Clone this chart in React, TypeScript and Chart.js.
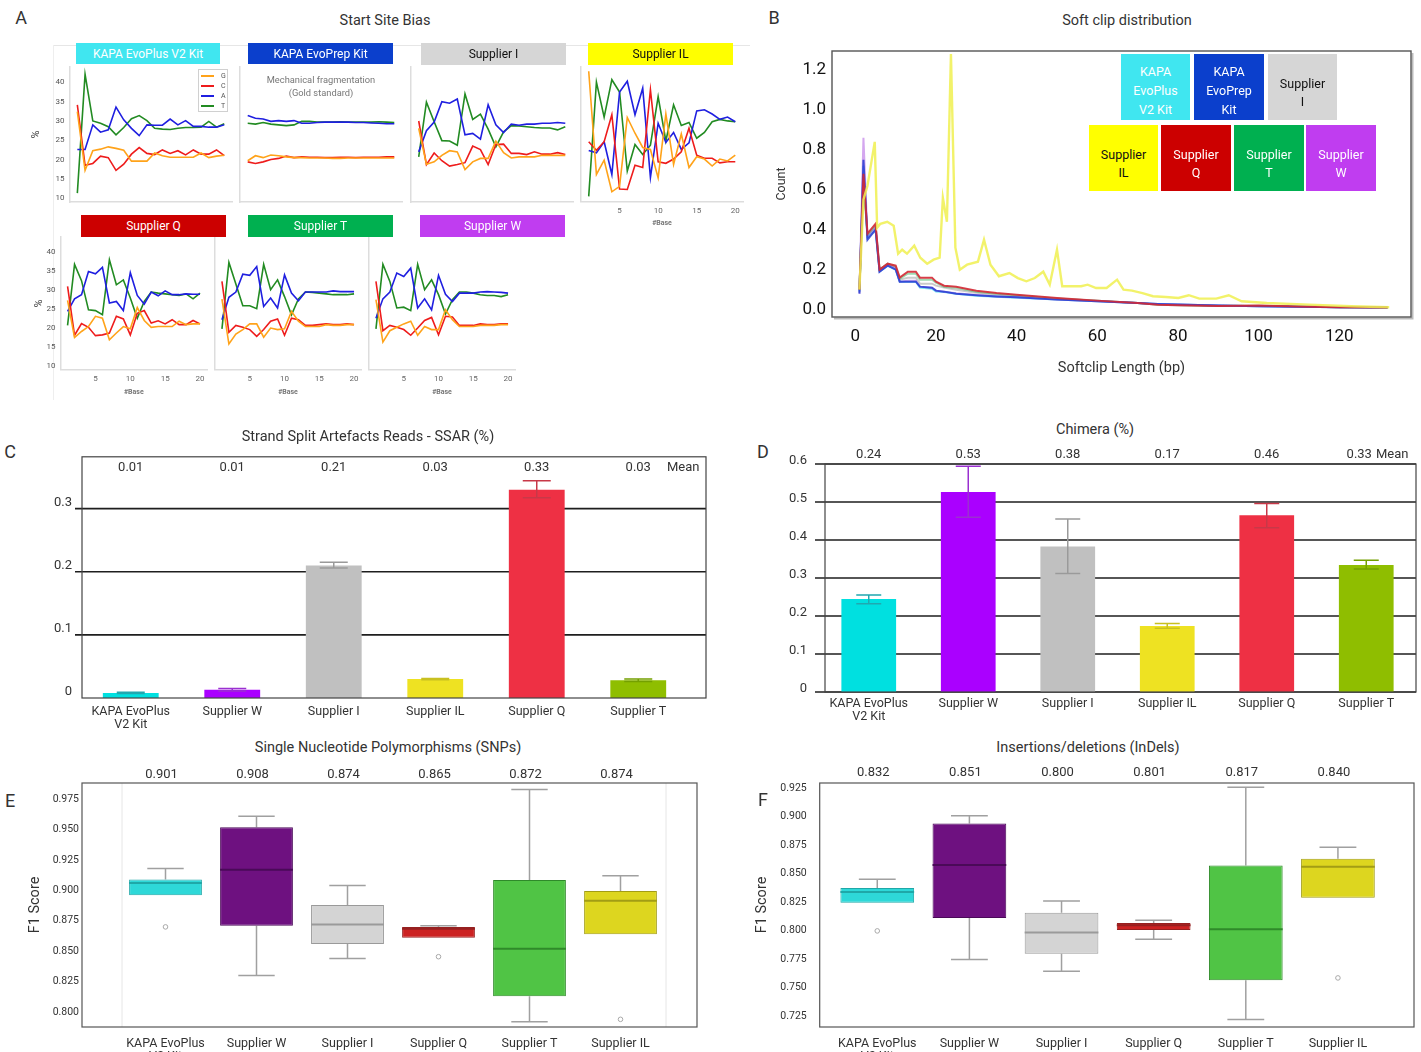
import React, { useEffect, useRef } from 'react';
import { Chart, registerables } from 'chart.js';

Chart.register(...registerables);

const FONT = "Roboto, 'DejaVu Sans', sans-serif";
Chart.defaults.font.family = FONT;
Chart.defaults.color = '#333';

// ---------------- Panel A: Start Site Bias ----------------
const BASES = [1, 2, 3, 4, 5, 6, 7, 8, 9, 10, 11, 12, 13, 14, 15, 16, 17, 18, 19, 20];
const A_X_TICKS = [5, 10, 15, 20];
const A_Y_TICKS = [10, 15, 20, 25, 30, 35, 40];
const NUC_LABELS = ['G', 'C', 'A', 'T'];
const NUC_COLORS = ['#FFA31A', '#EE1C1C', '#1F1FE0', '#228B22'];

const EVOPLUS_G = [32.4, 17.2, 22.3, 22.7, 23.3, 22.9, 22.4, 19.6, 19.6, 19.6, 21.7, 21.0, 20.6, 20.6, 20.6, 20.6, 21.7, 20.5, 20.9, 21.1];
const EVOPLUS_C = [34.2, 18.5, 19.0, 20.9, 20.5, 17.2, 18.8, 21.4, 23.1, 21.6, 21.3, 22.5, 21.6, 22.3, 21.2, 22.5, 21.4, 21.4, 22.5, 21.0];
const EVOPLUS_A = [22.6, 22.6, 29.0, 27.1, 27.7, 33.6, 30.3, 28.1, 26.2, 29.0, 28.9, 28.9, 30.5, 29.0, 30.1, 28.6, 28.6, 28.4, 28.4, 29.0];
const EVOPLUS_T = [11.3, 42.1, 30.0, 29.4, 28.5, 26.4, 28.3, 30.6, 31.4, 30.1, 28.1, 27.9, 27.8, 28.1, 28.3, 28.3, 28.4, 29.9, 28.4, 29.3];

const EVOPREP_G = [19.7, 21.0, 20.5, 21.2, 21.0, 20.7, 20.5, 20.5, 20.4, 20.4, 20.4, 20.3, 20.3, 20.4, 20.4, 20.4, 20.4, 20.4, 20.4, 20.4];
const EVOPREP_C = [19.4, 19.0, 19.4, 20.0, 20.3, 20.9, 20.5, 20.7, 20.6, 20.6, 20.5, 20.5, 20.6, 20.6, 20.5, 20.6, 20.6, 20.6, 20.7, 20.7];
const EVOPREP_A = [31.4, 30.7, 30.5, 29.9, 30.1, 29.9, 30.1, 29.4, 29.4, 29.6, 29.7, 29.7, 29.7, 29.7, 29.6, 29.6, 29.5, 29.4, 29.3, 29.3];
const EVOPREP_T = [29.4, 29.2, 29.6, 29.2, 29.0, 28.8, 29.0, 29.9, 29.9, 29.7, 29.7, 29.7, 29.8, 29.7, 29.7, 29.7, 29.7, 29.8, 29.7, 29.6];

const SUPI_G = [28.1, 18.8, 19.4, 21.1, 22.3, 22.0, 17.4, 19.4, 20.3, 20.3, 24.8, 21.8, 20.4, 20.7, 20.7, 20.7, 21.1, 21.1, 21.1, 21.1];
const SUPI_C = [30.0, 18.7, 21.7, 19.7, 18.3, 18.7, 19.2, 23.5, 22.6, 18.7, 23.9, 24.0, 21.6, 21.6, 21.3, 22.0, 21.4, 21.4, 21.8, 21.3];
const SUPI_A = [22.0, 27.5, 29.7, 35.0, 34.6, 35.7, 26.4, 26.8, 25.3, 34.2, 29.0, 27.0, 29.2, 28.9, 29.2, 29.2, 29.4, 29.4, 29.6, 29.4];
const SUPI_T = [20.7, 34.9, 29.8, 24.9, 24.8, 23.7, 37.0, 30.4, 31.8, 27.9, 23.3, 27.2, 28.8, 28.7, 28.5, 28.3, 28.2, 28.2, 27.7, 28.5];

const SUPIL_G = [42.9, 16.1, 19.8, 11.6, 13.0, 30.9, 26.8, 23.1, 22.6, 15.2, 31.8, 18.7, 26.6, 17.9, 20.7, 20.1, 18.3, 20.1, 19.6, 21.1];
const SUPIL_C = [24.6, 22.4, 24.6, 31.6, 12.3, 12.2, 18.5, 17.9, 38.1, 19.4, 19.0, 20.1, 22.0, 28.1, 21.1, 20.3, 20.3, 19.1, 19.4, 19.4];
const SUPIL_A = [22.3, 21.7, 24.6, 16.1, 37.5, 40.3, 31.6, 38.5, 15.3, 29.4, 24.4, 27.0, 22.6, 24.3, 32.6, 32.9, 31.8, 30.4, 31.0, 29.8];
const SUPIL_T = [10.4, 40.1, 31.0, 40.7, 37.5, 17.0, 23.9, 21.3, 23.7, 36.3, 24.8, 34.2, 28.8, 29.6, 25.5, 27.0, 29.8, 30.4, 30.0, 29.8];

const SUPQ_G = [27.3, 17.5, 19.1, 20.4, 23.1, 22.6, 16.9, 18.7, 20.4, 19.8, 25.4, 22.0, 20.2, 20.4, 20.4, 20.4, 21.8, 20.9, 21.1, 21.1];
const SUPQ_C = [31.0, 18.1, 21.2, 20.2, 18.0, 18.2, 18.7, 23.1, 22.4, 18.2, 23.9, 24.6, 21.3, 21.9, 21.1, 22.2, 20.9, 20.9, 22.0, 21.1];
const SUPQ_A = [24.4, 27.7, 28.8, 34.9, 34.3, 36.0, 26.6, 27.0, 24.6, 34.6, 28.6, 26.3, 29.5, 28.5, 29.8, 28.8, 28.8, 29.0, 28.9, 28.9];
const SUPQ_T = [20.7, 36.8, 32.5, 24.8, 24.6, 23.5, 38.0, 31.4, 32.7, 27.9, 22.6, 27.0, 29.5, 29.2, 29.0, 28.8, 28.6, 29.0, 27.7, 29.2];

const SUPT_G = [27.6, 15.8, 18.4, 19.6, 21.1, 21.1, 17.6, 20.0, 19.6, 19.8, 24.4, 21.8, 20.4, 20.4, 20.4, 20.9, 20.7, 20.7, 20.9, 20.9];
const SUPT_C = [32.3, 18.9, 20.7, 20.2, 19.6, 17.8, 19.6, 21.8, 22.4, 18.1, 22.6, 22.2, 20.7, 20.7, 20.9, 21.1, 20.9, 20.9, 21.1, 20.9];
const SUPT_A = [22.2, 28.1, 29.5, 34.2, 33.9, 36.2, 25.7, 27.9, 25.3, 34.0, 29.2, 27.2, 29.5, 29.5, 29.5, 29.5, 29.8, 29.6, 29.6, 29.6];
const SUPT_T = [19.8, 37.3, 31.6, 25.9, 25.9, 25.1, 36.8, 30.1, 32.7, 28.3, 23.5, 27.7, 29.5, 29.4, 29.2, 29.0, 28.8, 28.8, 28.8, 29.0];

const SUPW_G = [27.5, 16.3, 19.3, 20.2, 21.1, 21.8, 18.1, 20.4, 19.6, 19.6, 24.8, 22.2, 20.4, 20.4, 20.4, 20.7, 20.7, 20.7, 20.9, 20.9];
const SUPW_C = [32.3, 19.3, 20.7, 20.2, 19.6, 18.1, 20.0, 22.0, 22.8, 18.2, 23.1, 22.9, 20.7, 20.7, 20.7, 21.1, 20.9, 20.9, 21.1, 21.1];
const SUPW_A = [22.6, 27.7, 29.5, 34.5, 33.6, 35.8, 25.3, 27.7, 24.8, 33.9, 28.9, 27.0, 29.2, 29.2, 29.2, 29.5, 29.6, 29.5, 29.4, 29.2];
const SUPW_T = [19.8, 36.8, 32.3, 25.3, 25.5, 24.6, 36.8, 30.1, 32.7, 28.8, 23.7, 27.5, 29.5, 29.5, 29.2, 28.8, 28.6, 28.6, 28.3, 28.8];

// ---------------- Panel B: Soft clip distribution ----------------
const B_X_TICKS = [0, 20, 40, 60, 80, 100, 120];
const B_Y_TICKS = [0, 0.2, 0.4, 0.6, 0.8, 1.0, 1.2];
const CLUSTER_X = [1, 2, 3, 5, 6, 8, 10, 11, 13, 15, 16, 19, 20, 22, 25, 30, 35, 40, 50, 60, 70, 75, 80, 90, 100, 110, 120, 132];
const SC_Q = [0.10, 0.68, 0.38, 0.43, 0.20, 0.23, 0.22, 0.16, 0.19, 0.19, 0.16, 0.16, 0.14, 0.12, 0.115, 0.095, 0.083, 0.075, 0.058, 0.045, 0.033, 0.024, 0.022, 0.018, 0.02, 0.016, 0.012, 0.01];
const SC_EVOPREP = [0.08, 0.75, 0.35, 0.40, 0.19, 0.22, 0.20, 0.14, 0.14, 0.14, 0.115, 0.11, 0.095, 0.09, 0.08, 0.072, 0.066, 0.062, 0.05, 0.042, 0.033, 0.028, 0.025, 0.02, 0.017, 0.014, 0.012, 0.01];
const SC_W = [0.08, 0.86, 0.36, 0.41, 0.19, 0.225, 0.205, 0.14, 0.145, 0.145, 0.115, 0.11, 0.095, 0.09, 0.082, 0.073, 0.066, 0.062, 0.05, 0.042, 0.033, 0.028, 0.025, 0.02, 0.017, 0.014, 0.012, 0.01];
const SC_EVOPLUS = [0.09, 0.72, 0.36, 0.40, 0.19, 0.22, 0.20, 0.14, 0.14, 0.14, 0.11, 0.105, 0.09, 0.088, 0.08, 0.07, 0.065, 0.06, 0.05, 0.042, 0.033, 0.028, 0.025, 0.02, 0.017, 0.014, 0.012, 0.01];
const SC_I = [0.09, 0.66, 0.37, 0.42, 0.2, 0.225, 0.21, 0.15, 0.16, 0.16, 0.13, 0.13, 0.12, 0.11, 0.1, 0.085, 0.075, 0.068, 0.054, 0.044, 0.033, 0.026, 0.023, 0.019, 0.018, 0.015, 0.012, 0.01];
const SC_T = [0.1, 0.65, 0.37, 0.42, 0.2, 0.23, 0.215, 0.155, 0.18, 0.18, 0.15, 0.15, 0.135, 0.115, 0.11, 0.09, 0.08, 0.072, 0.056, 0.044, 0.033, 0.024, 0.022, 0.018, 0.019, 0.015, 0.012, 0.01];
const YELLOW_X = [1, 2, 3, 4.8, 5.4, 6.2, 7.9, 9.5, 10.6, 11.6, 12.8, 14.6, 16.1, 17.8, 19.4, 20.9, 21.7, 22.7, 23.7, 24.8, 25.9, 27.7, 30.4, 31.9, 33.5, 35.6, 38.2, 40.3, 42.4, 44.5, 46.6, 48.2, 50, 51.3, 53.4, 56, 57.6, 59.7, 62.3, 64.9, 66.5, 68.6, 71.2, 73.8, 77, 80.1, 82.7, 85.3, 89.5, 92.6, 95.8, 102, 112.5, 123, 132.4];
const SC_IL = [0.1, 0.55, 0.62, 0.84, 0.41, 0.43, 0.44, 0.42, 0.28, 0.3, 0.28, 0.32, 0.26, 0.23, 0.25, 0.26, 0.56, 0.44, 1.28, 0.31, 0.2, 0.225, 0.24, 0.35, 0.225, 0.167, 0.183, 0.158, 0.142, 0.158, 0.19, 0.125, 0.3, 0.117, 0.117, 0.117, 0.125, 0.108, 0.108, 0.15, 0.1, 0.095, 0.083, 0.067, 0.063, 0.058, 0.072, 0.055, 0.055, 0.072, 0.042, 0.033, 0.025, 0.017, 0.012];

// ---------------- Panels C & D: bars ----------------
const CAT_CD = [['KAPA EvoPlus', 'V2 Kit'], 'Supplier W', 'Supplier I', 'Supplier IL', 'Supplier Q', 'Supplier T'];
const BAR_COLORS = ['#00E0E0', '#AA00FF', '#C0C0C0', '#EEE222', '#EE3044', '#8FBE00'];
const ERR_COLORS = ['#20A8B0', '#9A30D0', '#9A9A9A', '#C8C020', '#C83848', '#74A000'];
const MEAN_WORD = 'Mean';

const SSAR = [0.008, 0.013, 0.21, 0.03, 0.33, 0.028];
const SSAR_LO = [0.007, 0.011, 0.206, 0.029, 0.317, 0.026];
const SSAR_HI = [0.009, 0.015, 0.215, 0.031, 0.344, 0.030];
const SSAR_MEANS = ['0.01', '0.01', '0.21', '0.03', '0.33', '0.03'];
const C_TICKS = [0, 0.1, 0.2, 0.3];

const CHIMERA = [0.245, 0.526, 0.383, 0.174, 0.465, 0.334];
const CHIMERA_LO = [0.232, 0.46, 0.312, 0.168, 0.432, 0.324];
const CHIMERA_HI = [0.255, 0.594, 0.455, 0.18, 0.496, 0.347];
const CHIMERA_MEANS = ['0.24', '0.53', '0.38', '0.17', '0.46', '0.33'];
const D_TICKS = [0, 0.1, 0.2, 0.3, 0.4, 0.5, 0.6];

// ---------------- Panels E & F: box plots ----------------
const CAT_EF = [['KAPA EvoPlus', 'V2 Kit'], 'Supplier W', 'Supplier I', 'Supplier Q', 'Supplier T', 'Supplier IL'];
const BOX_COLORS = ['#2ED8D8', '#6E1180', '#D4D4D4', '#CC2222', '#50C445', '#DDD61F'];
const BOX_EDGES = ['#1FA8A8', '#4A0A58', '#9A9A9A', '#962020', '#2F8A2A', '#A29D15'];

const SNP_MIN = [0.896, 0.83, 0.844, 0.861, 0.792, 0.864];
const SNP_Q1 = [0.896, 0.871, 0.856, 0.861, 0.813, 0.864];
const SNP_MED = [0.906, 0.917, 0.872, 0.8685, 0.852, 0.8915];
const SNP_Q3 = [0.909, 0.952, 0.888, 0.87, 0.9086, 0.8995];
const SNP_MAX = [0.918, 0.961, 0.904, 0.871, 0.983, 0.912];
const SNP_OUT = [0.87, null, null, 0.8455, null, 0.794];
const SNP_MEANS = ['0.901', '0.908', '0.874', '0.865', '0.872', '0.874'];
const E_TICKS = [0.8, 0.825, 0.85, 0.875, 0.9, 0.925, 0.95, 0.975];

const INDEL_MIN = [0.8244, 0.7747, 0.7645, 0.7925, 0.7221, 0.8288];
const INDEL_Q1 = [0.8244, 0.811, 0.7797, 0.8007, 0.7566, 0.8288];
const INDEL_MED = [0.834, 0.8575, 0.7984, 0.8048, 0.8013, 0.856];
const INDEL_Q3 = [0.8375, 0.894, 0.8156, 0.8068, 0.8572, 0.863];
const INDEL_MAX = [0.845, 0.9007, 0.826, 0.8092, 0.9256, 0.873];
const INDEL_OUT = [0.7998, null, null, null, null, 0.7586];
const INDEL_MEANS = ['0.832', '0.851', '0.800', '0.801', '0.817', '0.840'];
const F_TICKS = [0.725, 0.75, 0.775, 0.8, 0.825, 0.85, 0.875, 0.9, 0.925];

// ---------------- helpers ----------------
type Area = { l: number; t: number; r: number; b: number };
type Marg = { ml: number; mt: number; mr: number; mb: number };

const fixTicks = (vals: number[]) => (s: any) => {
  s.ticks = vals.map((v) => ({ value: v }));
};

function baseOpts(m: Marg) {
  return {
    animation: false,
    responsive: false,
    maintainAspectRatio: false,
    events: [],
    layout: { padding: { top: m.mt, right: m.mr, left: 0, bottom: 0 } },
    plugins: { legend: { display: false }, tooltip: { enabled: false } },
  };
}

function ChartBox({ area, m, make }: { area: Area; m: Marg; make: (m: Marg) => any }) {
  const ref = useRef<HTMLCanvasElement>(null);
  const w = Math.round(area.r - area.l + m.ml + m.mr);
  const h = Math.round(area.b - area.t + m.mt + m.mb);
  useEffect(() => {
    const chart = new Chart(ref.current as HTMLCanvasElement, make(m));
    return () => chart.destroy();
  }, []);
  return (
    <div style={{ position: 'absolute', left: area.l - m.ml, top: area.t - m.mt, width: w, height: h }}>
      <canvas ref={ref} width={w} height={h} style={{ width: w, height: h, display: 'block' }} />
    </div>
  );
}

function Txt({ x, y, s, size, color = '#333', rot = 0, weight = 400 }: any) {
  return (
    <div
      style={{
        position: 'absolute', left: x, top: y, transform: `translate(-50%, -50%) rotate(${rot}deg)`,
        fontSize: size, color, whiteSpace: 'nowrap', lineHeight: 1, fontWeight: weight,
      }}
    >
      {s}
    </div>
  );
}

function Tag({ x, y, w, h, bg, fg, lines, size, lh, dy = 0 }: any) {
  return (
    <div
      style={{
        position: 'absolute', left: x, top: y, width: w, height: h, background: bg, color: fg, fontSize: size,
        display: 'flex', flexDirection: 'column', alignItems: 'center', justifyContent: 'center', lineHeight: `${lh}px`,
        textAlign: 'center', boxSizing: 'border-box', paddingTop: dy * 2,
      }}
    >
      {lines.map((l: string, i: number) => (
        <div key={i}>{l}</div>
      ))}
    </div>
  );
}

// ---------------- Panel A config ----------------
function ssbMake(series: number[][], showY: boolean, showX: boolean) {
  return (m: Marg) => ({
    type: 'line',
    data: {
      datasets: series.map((d, k) => ({
        label: NUC_LABELS[k],
        data: BASES.map((b, i) => ({ x: b, y: d[i] })),
        borderColor: NUC_COLORS[k],
        borderWidth: 1.6,
        pointRadius: 0,
        tension: 0,
      })),
    },
    options: {
      ...baseOpts(m),
      scales: {
        x: {
          type: 'linear', min: 0, max: 21,
          afterBuildTicks: fixTicks(A_X_TICKS),
          afterFit: (s: any) => { s.height = m.mb; },
          grid: { display: false, drawTicks: false },
          border: { display: true, color: '#DDDDDD', width: 1.5 },
          ticks: { display: showX, color: '#666', font: { size: 8 }, padding: 4, maxRotation: 0, autoSkip: false },
          title: { display: showX, text: '#Base', color: '#777', font: { size: 7, weight: 'bold' }, padding: { top: 0, bottom: 2 } },
        },
        y: {
          type: 'linear', min: 9, max: 44,
          afterBuildTicks: fixTicks(A_Y_TICKS),
          afterFit: (s: any) => { s.width = m.ml; },
          grid: { display: false, drawTicks: false },
          border: { display: true, color: '#DDDDDD', width: 1.5 },
          ticks: { display: showY, color: '#555', font: { size: 8 }, padding: 5, autoSkip: false },
          title: { display: showY, text: '%', color: '#444', font: { size: 11 }, padding: { top: 1.5, bottom: 0 } },
        },
      },
    },
  });
}

// ---------------- Panel B config ----------------
function softclipMake(m: Marg) {
  const cl = (d: number[], col: string, w = 2) => ({
    data: CLUSTER_X.map((x, i) => ({ x, y: d[i] })),
    borderColor: col, borderWidth: w, pointRadius: 0, tension: 0,
  });
  return {
    type: 'line',
    data: {
      datasets: [
        { data: YELLOW_X.map((x, i) => ({ x, y: SC_IL[i] })), borderColor: 'rgba(240,240,80,0.85)', borderWidth: 2.4, pointRadius: 0, tension: 0 },
        cl(SC_Q, 'rgba(212,40,52,0.9)'),
        cl(SC_EVOPREP, 'rgba(40,60,210,0.85)'),
        cl(SC_W, 'rgba(160,60,220,0.45)'),
        cl(SC_EVOPLUS, 'rgba(64,220,240,0.7)'),
        cl(SC_T, 'rgba(40,170,80,0.45)'),
        cl(SC_I, 'rgba(190,190,190,0.8)'),
      ],
    },
    options: {
      ...baseOpts(m),
      scales: {
        x: {
          type: 'linear', min: -5.8, max: 137.8,
          afterBuildTicks: fixTicks(B_X_TICKS),
          afterFit: (s: any) => { s.height = m.mb; },
          grid: { display: false, drawTicks: false },
          border: { display: false },
          ticks: { color: '#111', font: { size: 17 }, padding: 10, maxRotation: 0, autoSkip: false },
          title: { display: true, text: 'Softclip Length (bp)', color: '#333', font: { size: 14.5 }, padding: { top: 0, bottom: 4 } },
        },
        y: {
          type: 'linear', min: -0.037, max: 1.295,
          afterBuildTicks: fixTicks(B_Y_TICKS),
          afterFit: (s: any) => { s.width = m.ml; },
          grid: { display: false, drawTicks: false },
          border: { display: false },
          ticks: { color: '#111', font: { size: 17 }, padding: 6, autoSkip: false, callback: (v: any) => Number(v).toFixed(1) },
          title: { display: true, text: 'Count', color: '#333', font: { size: 12.5 }, padding: { top: 5, bottom: 0 } },
        },
      },
    },
    plugins: [
      {
        id: 'frameB',
        afterDatasetsDraw(chart: any) {
          const { ctx, chartArea: a } = chart;
          ctx.save();
          ctx.strokeStyle = '#BBBBBB';
          ctx.lineWidth = 2;
          ctx.beginPath();
          ctx.moveTo(a.right + 1.5, a.top + 2);
          ctx.lineTo(a.right + 1.5, a.bottom + 1.5);
          ctx.lineTo(a.left + 2, a.bottom + 1.5);
          ctx.stroke();
          ctx.strokeStyle = '#555';
          ctx.lineWidth = 1.4;
          ctx.strokeRect(a.left, a.top, a.right - a.left, a.bottom - a.top);
          ctx.restore();
        },
      },
    ],
  };
}

// ---------------- Panels C/D config ----------------
function barMake(o: {
  values: number[]; lo: number[]; hi: number[]; means: string[]; yMax: number; ticks: number[]; grid: number[];
  gridDX: number; frameDL: number; frameDR: number; meanDY: number; meanWordDX: number; lastMeanDX: number;
  capW: number; tickPad: number; labelOffset: number; xPad: number;
}) {
  return (m: Marg) => ({
    type: 'bar',
    data: {
      labels: CAT_CD,
      datasets: [{ data: o.values, backgroundColor: BAR_COLORS, borderWidth: 0, barPercentage: 0.55, categoryPercentage: 1 }],
    },
    options: {
      ...baseOpts(m),
      scales: {
        x: {
          afterFit: (s: any) => { s.height = m.mb; },
          grid: { display: false, drawTicks: false },
          border: { display: false },
          ticks: { color: '#333', font: { size: 12.5, lineHeight: 1.05 }, padding: o.xPad, maxRotation: 0, autoSkip: false },
        },
        y: {
          min: 0, max: o.yMax,
          afterBuildTicks: fixTicks(o.ticks),
          afterFit: (s: any) => { s.width = m.ml; },
          grid: { display: false, drawTicks: false },
          border: { display: false },
          ticks: {
            color: '#333', font: { size: 13 }, padding: o.tickPad, labelOffset: o.labelOffset, autoSkip: false,
            callback: (v: any) => (Number(v) === 0 ? '0' : Number(v).toFixed(1)),
          },
        },
      },
    },
    plugins: [
      {
        id: 'barDecor',
        beforeDatasetsDraw(chart: any) {
          const { ctx, chartArea: a, scales } = chart;
          ctx.save();
          ctx.strokeStyle = '#1E1E1E';
          ctx.lineWidth = 1.6;
          for (const v of o.grid) {
            const py = scales.y.getPixelForValue(v);
            ctx.beginPath();
            ctx.moveTo(a.left + o.gridDX, py);
            ctx.lineTo(a.right + o.frameDR, py);
            ctx.stroke();
          }
          ctx.restore();
        },
        afterDatasetsDraw(chart: any) {
          const { ctx, chartArea: a, scales } = chart;
          const x = scales.x;
          const y = scales.y;
          ctx.save();
          ctx.strokeStyle = '#444';
          ctx.lineWidth = 1.2;
          ctx.strokeRect(a.left + o.frameDL, a.top, a.right + o.frameDR - a.left - o.frameDL, a.bottom - a.top);
          o.lo.forEach((lo, i) => {
            const cx = x.getPixelForValue(i);
            const p1 = y.getPixelForValue(lo);
            const p2 = y.getPixelForValue(o.hi[i]);
            ctx.strokeStyle = ERR_COLORS[i];
            ctx.lineWidth = 1.5;
            ctx.beginPath();
            ctx.moveTo(cx, p1); ctx.lineTo(cx, p2);
            ctx.moveTo(cx - o.capW / 2, p1); ctx.lineTo(cx + o.capW / 2, p1);
            ctx.moveTo(cx - o.capW / 2, p2); ctx.lineTo(cx + o.capW / 2, p2);
            ctx.stroke();
          });
          ctx.fillStyle = '#333';
          ctx.font = `13px ${FONT}`;
          ctx.textAlign = 'center';
          ctx.textBaseline = 'middle';
          const n = o.means.length;
          o.means.forEach((s, i) => {
            ctx.fillText(s, x.getPixelForValue(i) + (i === n - 1 ? o.lastMeanDX : 0), a.top + o.meanDY);
          });
          ctx.fillText(MEAN_WORD, x.getPixelForValue(n - 1) + o.meanWordDX, a.top + o.meanDY);
          ctx.restore();
        },
      },
    ],
  });
}

// ---------------- Panels E/F config ----------------
function boxMake(o: {
  min: number[]; q1: number[]; med: number[]; q3: number[]; max: number[]; out: (number | null)[]; means: string[];
  yMin: number; yMax: number; ticks: number[]; title: string; tickLen: number; frameDL: number; frameDR: number;
  meanDY: number; inner: boolean;
}) {
  return (m: Marg) => ({
    type: 'bar',
    data: {
      labels: CAT_EF,
      datasets: [
        {
          type: 'line', data: o.out, showLine: false, pointRadius: 2.3, pointBorderWidth: 1,
          pointBorderColor: '#A8A8A8', pointBackgroundColor: 'rgba(255,255,255,0)', borderColor: '#A8A8A8',
        },
        {
          type: 'bar', data: o.q1.map((q, i) => [q, o.q3[i]]), backgroundColor: BOX_COLORS, borderColor: BOX_EDGES,
          borderWidth: 1, borderSkipped: false, barPercentage: 0.8, categoryPercentage: 1,
        },
      ],
    },
    options: {
      ...baseOpts(m),
      scales: {
        x: {
          afterFit: (s: any) => { s.height = m.mb; },
          grid: { display: false, drawTicks: false },
          border: { display: false },
          ticks: { color: '#333', font: { size: 12.5, lineHeight: 1.05 }, padding: 10, maxRotation: 0, autoSkip: false },
        },
        y: {
          min: o.yMin, max: o.yMax,
          afterBuildTicks: fixTicks(o.ticks),
          afterFit: (s: any) => { s.width = m.ml; },
          grid: { display: false, drawTicks: true, tickLength: o.tickLen },
          border: { display: false },
          ticks: { color: '#333', font: { size: 10.5 }, padding: 5, autoSkip: false, callback: (v: any) => Number(v).toFixed(3) },
          title: { display: true, text: o.title, color: '#333', font: { size: 14.5 }, padding: { top: 5, bottom: 0 } },
        },
      },
    },
    plugins: [
      {
        id: 'boxDecor',
        beforeDatasetsDraw(chart: any) {
          const { ctx, chartArea: a, scales } = chart;
          const x = scales.x;
          const y = scales.y;
          const meta = chart.getDatasetMeta(1);
          ctx.save();
          if (o.inner) {
            ctx.strokeStyle = '#E6E6E6';
            ctx.lineWidth = 1;
            ctx.beginPath();
            ctx.moveTo(a.left + 2, a.top); ctx.lineTo(a.left + 2, a.bottom);
            ctx.moveTo(a.right, a.top); ctx.lineTo(a.right, a.bottom);
            ctx.stroke();
          }
          ctx.strokeStyle = '#A0A0A0';
          ctx.lineWidth = 1.5;
          o.q1.forEach((q1, i) => {
            const cx = x.getPixelForValue(i);
            const bw = meta.data[i] ? meta.data[i].width : 70;
            const cap = bw / 4;
            ctx.beginPath();
            if (o.max[i] > o.q3[i]) {
              const p = y.getPixelForValue(o.max[i]);
              ctx.moveTo(cx, y.getPixelForValue(o.q3[i])); ctx.lineTo(cx, p);
              ctx.moveTo(cx - cap, p); ctx.lineTo(cx + cap, p);
            }
            if (o.min[i] < q1) {
              const p = y.getPixelForValue(o.min[i]);
              ctx.moveTo(cx, y.getPixelForValue(q1)); ctx.lineTo(cx, p);
              ctx.moveTo(cx - cap, p); ctx.lineTo(cx + cap, p);
            }
            ctx.stroke();
          });
          ctx.restore();
        },
        afterDatasetsDraw(chart: any) {
          const { ctx, chartArea: a, scales } = chart;
          const x = scales.x;
          const y = scales.y;
          const meta = chart.getDatasetMeta(1);
          ctx.save();
          ctx.lineWidth = 2;
          o.med.forEach((md, i) => {
            const cx = x.getPixelForValue(i);
            const bw = meta.data[i] ? meta.data[i].width : 70;
            const py = y.getPixelForValue(md);
            ctx.strokeStyle = BOX_EDGES[i];
            ctx.beginPath();
            ctx.moveTo(cx - bw / 2, py); ctx.lineTo(cx + bw / 2, py);
            ctx.stroke();
          });
          ctx.strokeStyle = '#555';
          ctx.lineWidth = 1.2;
          ctx.strokeRect(a.left + o.frameDL, a.top, a.right + o.frameDR - a.left - o.frameDL, a.bottom - a.top);
          ctx.fillStyle = '#333';
          ctx.font = `13px ${FONT}`;
          ctx.textAlign = 'center';
          ctx.textBaseline = 'middle';
          o.means.forEach((s, i) => ctx.fillText(s, x.getPixelForValue(i) - 4, a.top + o.meanDY));
          ctx.restore();
        },
      },
    ],
  });
}

// ---------------- App ----------------
export default function App() {
  return (
    <div
      style={{
        position: 'absolute', left: 0, top: 0, width: 1421, height: 1052, background: '#fff', overflow: 'hidden',
        fontFamily: FONT, color: '#333',
      }}
    >
      {/* Panel A frame hints */}
      <div style={{ position: 'absolute', left: 53, top: 45, width: 697, height: 0, borderTop: '1px solid #E6E6E6' }} />
      <div style={{ position: 'absolute', left: 53, top: 45, width: 0, height: 355, borderLeft: '1px solid #EEEEEE' }} />

      {/* Panel A charts */}
      <ChartBox area={{ l: 70, t: 67, r: 232, b: 202 }} m={{ ml: 41.6, mt: 12, mr: 4, mb: 12 }} make={ssbMake([EVOPLUS_G, EVOPLUS_C, EVOPLUS_A, EVOPLUS_T], true, false)} />
      <ChartBox area={{ l: 240, t: 67, r: 402, b: 202 }} m={{ ml: 4, mt: 12, mr: 4, mb: 12 }} make={ssbMake([EVOPREP_G, EVOPREP_C, EVOPREP_A, EVOPREP_T], false, false)} />
      <ChartBox area={{ l: 411, t: 67, r: 573, b: 202 }} m={{ ml: 4, mt: 12, mr: 4, mb: 12 }} make={ssbMake([SUPI_G, SUPI_C, SUPI_A, SUPI_T], false, false)} />
      <ChartBox area={{ l: 581, t: 67, r: 743, b: 202 }} m={{ ml: 4, mt: 12, mr: 4, mb: 27.2 }} make={ssbMake([SUPIL_G, SUPIL_C, SUPIL_A, SUPIL_T], false, true)} />
      <ChartBox area={{ l: 61, t: 237, r: 207, b: 370 }} m={{ ml: 29.6, mt: 12, mr: 4, mb: 28.2 }} make={ssbMake([SUPQ_G, SUPQ_C, SUPQ_A, SUPQ_T], true, true)} />
      <ChartBox area={{ l: 215, t: 237, r: 361, b: 370 }} m={{ ml: 4, mt: 12, mr: 4, mb: 28.2 }} make={ssbMake([SUPT_G, SUPT_C, SUPT_A, SUPT_T], false, true)} />
      <ChartBox area={{ l: 369, t: 237, r: 515, b: 370 }} m={{ ml: 4, mt: 12, mr: 4, mb: 28.2 }} make={ssbMake([SUPW_G, SUPW_C, SUPW_A, SUPW_T], false, true)} />

      {/* Panel B chart */}
      <ChartBox area={{ l: 832, t: 51, r: 1411, b: 317 }} m={{ ml: 63, mt: 18, mr: 6, mb: 64 }} make={softclipMake} />

      {/* Panel C chart */}
      <ChartBox
        area={{ l: 80, t: 455, r: 689, b: 698 }}
        m={{ ml: 40, mt: 14, mr: 22, mb: 40 }}
        make={barMake({
          values: SSAR, lo: SSAR_LO, hi: SSAR_HI, means: SSAR_MEANS, yMax: 0.382, ticks: C_TICKS, grid: [0.1, 0.2, 0.3],
          gridDX: -5, frameDL: 2, frameDR: 17, meanDY: 11, meanWordDX: 45, lastMeanDX: 0, capW: 28, tickPad: 8,
          labelOffset: -6, xPad: 7,
        })}
      />

      {/* Panel D chart */}
      <ChartBox
        area={{ l: 819, t: 464, r: 1416, b: 692 }}
        m={{ ml: 39, mt: 22, mr: 4, mb: 40 }}
        make={barMake({
          values: CHIMERA, lo: CHIMERA_LO, hi: CHIMERA_HI, means: CHIMERA_MEANS, yMax: 0.6, ticks: D_TICKS, grid: D_TICKS,
          gridDX: -4, frameDL: 6, frameDR: 0, meanDY: -9, meanWordDX: 26, lastMeanDX: -7, capW: 25, tickPad: 12,
          labelOffset: -3, xPad: 5,
        })}
      />

      {/* Panel E chart */}
      <ChartBox
        area={{ l: 120, t: 783, r: 666, b: 1027 }}
        m={{ ml: 98, mt: 25, mr: 35, mb: 30 }}
        make={boxMake({
          min: SNP_MIN, q1: SNP_Q1, med: SNP_MED, q3: SNP_Q3, max: SNP_MAX, out: SNP_OUT, means: SNP_MEANS,
          yMin: 0.7877, yMax: 0.9883, ticks: E_TICKS, title: 'F1 Score', tickLen: 36, frameDL: -38, frameDR: 31,
          meanDY: -8, inner: true,
        })}
      />

      {/* Panel F chart */}
      <ChartBox
        area={{ l: 831.5, t: 782.7, r: 1384, b: 1026.7 }}
        m={{ ml: 82.2, mt: 25, mr: 33, mb: 30 }}
        make={boxMake({
          min: INDEL_MIN, q1: INDEL_Q1, med: INDEL_MED, q3: INDEL_Q3, max: INDEL_MAX, out: INDEL_OUT, means: INDEL_MEANS,
          yMin: 0.7156, yMax: 0.9294, ticks: F_TICKS, title: 'F1 Score', tickLen: 19.5, frameDL: -11.5, frameDR: 30,
          meanDY: -10.7, inner: false,
        })}
      />

      {/* Panel letters & titles */}
      <Txt x={21} y={18} s="A" size={18} />
      <Txt x={385} y={21} s="Start Site Bias" size={14.5} />
      <Txt x={774} y={18} s="B" size={18} />
      <Txt x={1127} y={21} s="Soft clip distribution" size={14.5} />
      <Txt x={10} y={452} s="C" size={18} />
      <Txt x={368} y={437} s="Strand Split Artefacts Reads - SSAR (%)" size={14.5} />
      <Txt x={763} y={452} s="D" size={18} />
      <Txt x={1095} y={430} s="Chimera (%)" size={14.5} />
      <Txt x={10} y={801} s="E" size={18} />
      <Txt x={388} y={748} s="Single Nucleotide Polymorphisms (SNPs)" size={14.5} />
      <Txt x={763} y={800} s="F" size={18} />
      <Txt x={1088} y={748} s="Insertions/deletions (InDels)" size={14.5} />

      {/* Panel A headers */}
      <Tag x={76} y={43} w={144} h={21} bg="#40E6F0" fg="#fff" lines={['KAPA EvoPlus V2 Kit']} size={12} lh={14} />
      <Tag x={248} y={43} w={145} h={21} bg="#0B3FCC" fg="#fff" lines={['KAPA EvoPrep Kit']} size={12} lh={14} />
      <Tag x={421} y={43} w={145} h={22} bg="#D6D6D6" fg="#111" lines={['Supplier I']} size={12} lh={14} />
      <Tag x={588} y={43} w={145} h={22} bg="#FFFF00" fg="#111" lines={['Supplier IL']} size={12} lh={14} />
      <Tag x={81} y={215} w={145} h={22} bg="#CC0000" fg="#fff" lines={['Supplier Q']} size={12} lh={14} />
      <Tag x={248} y={215} w={145} h={22} bg="#00B050" fg="#fff" lines={['Supplier T']} size={12} lh={14} />
      <Tag x={420} y={215} w={145} h={22} bg="#C03DF0" fg="#fff" lines={['Supplier W']} size={12} lh={14} />

      {/* Panel A legend & note */}
      <div style={{ position: 'absolute', left: 198, top: 69, width: 28, height: 41, border: '1px solid #D0D0D0', background: '#fff' }}>
        {NUC_LABELS.map((n, i) => (
          <div key={n} style={{ position: 'absolute', left: 2, top: 1 + i * 10, width: 26, height: 10 }}>
            <div style={{ position: 'absolute', left: 0, top: 4, width: 13, height: 2, background: NUC_COLORS[i] }} />
            <div style={{ position: 'absolute', left: 20, top: 0, fontSize: 7, lineHeight: '10px', color: '#555' }}>{n}</div>
          </div>
        ))}
      </div>
      <Txt x={321} y={80} s="Mechanical fragmentation" size={9.3} color="#777" />
      <Txt x={321} y={93} s="(Gold standard)" size={9.3} color="#777" />

      {/* Panel B legend */}
      <Tag x={1121} y={54} w={69} h={66} bg="#40E6F0" fg="#fff" lines={['KAPA', 'EvoPlus', 'V2 Kit']} size={12.5} lh={19} dy={3} />
      <Tag x={1194} y={54} w={70} h={66} bg="#0B3FCC" fg="#fff" lines={['KAPA', 'EvoPrep', 'Kit']} size={12.5} lh={19} dy={3} />
      <Tag x={1268} y={54} w={69} h={66} bg="#D6D6D6" fg="#111" lines={['Supplier', 'I']} size={12.5} lh={18} dy={5.5} />
      <Tag x={1089} y={125} w={69} h={66} bg="#FFFF00" fg="#111" lines={['Supplier', 'IL']} size={12.5} lh={18} dy={5.5} />
      <Tag x={1161} y={125} w={70} h={66} bg="#CC0000" fg="#fff" lines={['Supplier', 'Q']} size={12.5} lh={18} dy={5.5} />
      <Tag x={1234} y={125} w={70} h={66} bg="#00B050" fg="#fff" lines={['Supplier', 'T']} size={12.5} lh={18} dy={5.5} />
      <Tag x={1306} y={125} w={70} h={66} bg="#C03DF0" fg="#fff" lines={['Supplier', 'W']} size={12.5} lh={18} dy={5.5} />
    </div>
  );
}
